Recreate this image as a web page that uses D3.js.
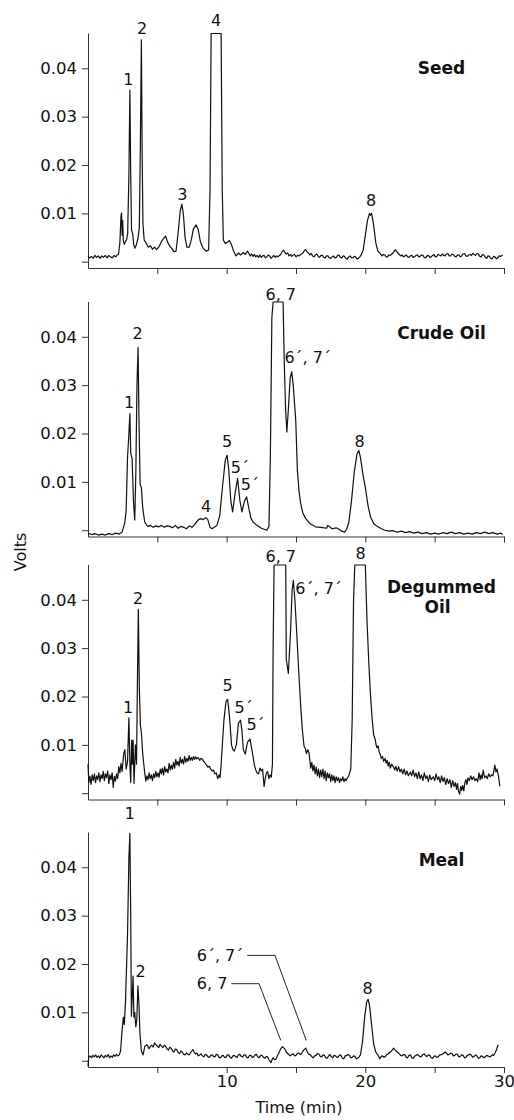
<!DOCTYPE html>
<html><head><meta charset="utf-8">
<script src="https://cdn.jsdelivr.net/npm/d3@7"></script>
<style>
html,body{margin:0;padding:0;background:#fff;}
svg{display:block;}
text{font-family:"DejaVu Sans",sans-serif;fill:#111;}
</style></head>
<body>
<svg id="chart" width="514" height="1120"></svg>
<script>
// ---------- data ----------
const panelTitles = [["Seed"], ["Crude Oil"], ["Degummed", "Oil"], ["Meal"]];
const xTicks = [5, 10, 15, 20, 25, 30];
const xTickLabels = ["", "10", "", "20", "", "30"];
const yTicks = [0, 0.01, 0.02, 0.03, 0.04];
const yTickLabels = ["", "0.01", "0.02", "0.03", "0.04"];
const xTitle = "Time (min)";
const yTitle = "Volts";

const seedTrace = [[0.0,0.0012],[0.12,0.0008],[0.25,0.0011],[0.38,0.0007],[0.5,0.0013],[0.62,0.0009],[0.75,0.0012],[0.88,0.0007],[1.0,0.0012],[1.12,0.0009],[1.25,0.0013],[1.38,0.0008],[1.5,0.0013],[1.62,0.0010],[1.75,0.0008],[1.88,0.0013],[2.0,0.0010],[2.1,0.0014],[2.2,0.0015],
[2.3,0.004],[2.38,0.0095],[2.42,0.0101],[2.46,0.0055],[2.5,0.0085],[2.55,0.0042],[2.62,0.0036],[2.7,0.0042],[2.78,0.0045],[2.86,0.0058],[2.95,0.018],[3.02,0.0355],[3.08,0.018],[3.14,0.0065],[3.22,0.0058],[3.3,0.0035],[3.38,0.0028],[3.48,0.0034],[3.6,0.0048],[3.7,0.007],[3.78,0.025],[3.85,0.0459],[3.9,0.024],[3.96,0.008],[4.05,0.0045],[4.2,0.0038],[4.35,0.0030],[4.5,0.0033],[4.65,0.0026],[4.8,0.0030],[4.95,0.0025],[5.1,0.0030],[5.3,0.0042],[5.45,0.0048],[5.6,0.0053],[5.75,0.0040],[5.9,0.0032],[6.05,0.0027],[6.2,0.0021],[6.35,0.0022],[6.5,0.0060],[6.65,0.0105],[6.77,0.0119],[6.88,0.0098],[7.0,0.0050],[7.13,0.0030],[7.3,0.0030],[7.45,0.0045],[7.6,0.0068],[7.8,0.0076],[7.95,0.0066],[8.1,0.0042],[8.3,0.0028],[8.5,0.0022],[8.7,0.0024],[8.8,0.015],[8.88,0.0472],[9.6,0.0472],[9.68,0.015],[9.76,0.0045],[9.9,0.0038],[10.05,0.0040],[10.2,0.0044],[10.35,0.0035],[10.5,0.0022],[10.67,0.0012],[10.85,0.0018],[11.0,0.0014],[11.2,0.0019],[11.35,0.0015],[11.5,0.0022],[11.7,0.0012],[11.8,0.0016],[11.9,0.0011],[12.0,0.0015],[12.1,0.0010],[12.2,0.0013],[12.3,0.0009],[12.4,0.0014],[12.5,0.0009],[12.6,0.0012],[12.7,0.0013],[12.8,0.0008],[12.9,0.0010],[13.0,0.0014],[13.1,0.0012],[13.2,0.0007],[13.3,0.0010],[13.4,0.0013],[13.5,0.0009],[13.6,0.0012],[13.7,0.0010],[13.8,0.0013],[13.9,0.0015],[14.0,0.0021],[14.1,0.0024],[14.2,0.0019],[14.3,0.0016],[14.4,0.0018],[14.5,0.0012],[14.6,0.0015],[14.7,0.0011],[14.8,0.0014],[14.9,0.0015],[15.0,0.0010],[15.1,0.0013],[15.2,0.0012],[15.3,0.0014],[15.4,0.0016],[15.5,0.0018],[15.6,0.0023],[15.7,0.0025],[15.8,0.0020],[15.9,0.0018],[16.0,0.0014],[16.1,0.0017],[16.2,0.0012],[16.3,0.0010],[16.4,0.0014],[16.5,0.0016],[16.6,0.0011],[16.7,0.0009],[16.8,0.0013],[16.9,0.0013],[17.0,0.0009],[17.1,0.0008],[17.2,0.0012],[17.3,0.0012],[17.4,0.0008],[17.5,0.0007],[17.6,0.0010],[17.7,0.0012],[17.8,0.0008],[17.9,0.0009],[18.0,0.0013],[18.1,0.0014],[18.2,0.0009],[18.3,0.0008],[18.4,0.0012],[18.5,0.0011],[18.6,0.0007],[18.7,0.0006],[18.8,0.0010],[18.9,0.0012],[19.0,0.0008],[19.1,0.0008],[19.2,0.0011],[19.3,0.0010],[19.4,0.0006],[19.5,0.0007],[19.6,0.0010],[19.7,0.0014],[19.85,0.0025],[20.0,0.0055],[20.15,0.0085],[20.3,0.0100],[20.37,0.0096],[20.45,0.0100],[20.6,0.0075],[20.75,0.0040],[20.9,0.0022],[21.05,0.0018],[21.2,0.0012],[21.3,0.0015],[21.4,0.0014],[21.5,0.0010],[21.6,0.0010],[21.7,0.0014],[21.8,0.0013],[21.9,0.0016],[22.0,0.0018],[22.16,0.0025],[22.35,0.0018],[22.45,0.0015],[22.55,0.0012],[22.65,0.0014],[22.75,0.0010],[22.85,0.0012],[22.95,0.0014],[23.05,0.0010],[23.15,0.0009],[23.25,0.0012],[23.35,0.0013],[23.45,0.0009],[23.55,0.0010],[23.65,0.0013],[23.75,0.0014],[23.85,0.0010],[23.95,0.0011],[24.05,0.0014],[24.15,0.0013],[24.25,0.0009],[24.35,0.0008],[24.45,0.0012],[24.55,0.0013],[24.65,0.0009],[24.75,0.0010],[24.85,0.0013],[24.95,0.0015],[25.05,0.0010],[25.15,0.0011],[25.25,0.0015],[25.35,0.0014],[25.45,0.0012],[25.55,0.0016],[25.65,0.0013],[25.75,0.0012],[25.85,0.0016],[25.95,0.0017],[26.05,0.0012],[26.15,0.0012],[26.25,0.0016],[26.35,0.0015],[26.45,0.0011],[26.55,0.0010],[26.65,0.0014],[26.75,0.0014],[26.85,0.0010],[26.95,0.0012],[27.05,0.0016],[27.15,0.0017],[27.25,0.0012],[27.35,0.0011],[27.45,0.0014],[27.55,0.0015],[27.65,0.0013],[27.75,0.0017],[27.85,0.0015],[27.95,0.0013],[28.05,0.0017],[28.15,0.0016],[28.25,0.0011],[28.35,0.0010],[28.45,0.0015],[28.55,0.0014],[28.65,0.0009],[28.75,0.0007],[28.85,0.0012],[28.95,0.0011],[29.05,0.0007],[29.15,0.0006],[29.25,0.0011],[29.35,0.0010],[29.45,0.0006],[29.55,0.0008],[29.65,0.0012],[29.75,0.0011],[29.9,0.0014]];

const crudeTrace = [[0.0,-0.0006],[0.25,-0.0009],[0.5,-0.0007],[0.75,-0.0010],[1.0,-0.0008],[1.25,-0.0010],[1.5,-0.0007],[1.75,-0.0009],[2.0,-0.0006],[2.25,-0.0008],[2.45,-0.0004],[2.6,0.0010],[2.66,0.0017],[2.75,0.004],[2.85,0.0150],[2.95,0.0200],[3.02,0.0241],[3.08,0.0160],[3.18,0.0148],[3.28,0.0060],[3.37,0.0021],[3.45,0.012],[3.53,0.030],[3.61,0.0378],[3.68,0.022],[3.76,0.0095],[3.85,0.0088],[3.95,0.0045],[4.09,0.0017],[4.3,0.0008],[4.5,0.0010],[4.7,0.0006],[4.9,0.0009],[5.1,0.0007],[5.3,0.0010],[5.5,0.0006],[5.7,0.0009],[5.9,0.0008],[6.1,0.0005],[6.3,0.0010],[6.5,0.0004],[6.7,0.0008],[6.9,0.0006],[7.1,0.0003],[7.3,0.0009],[7.5,0.0006],[7.7,0.0012],[7.9,0.0020],[8.1,0.0024],[8.3,0.0022],[8.5,0.0026],[8.64,0.0022],[8.8,0.0006],[8.95,0.0003],[9.1,0.0006],[9.3,0.0010],[9.5,0.0030],[9.7,0.0090],[9.9,0.0145],[10.03,0.0155],[10.15,0.0125],[10.3,0.0060],[10.43,0.0038],[10.6,0.0075],[10.79,0.0107],[10.95,0.0062],[11.1,0.0038],[11.28,0.0060],[11.44,0.0069],[11.6,0.0045],[11.75,0.0025],[11.9,0.0017],[12.1,0.0012],[12.3,0.0008],[12.5,0.0004],[12.7,0.0002],[12.9,0.0000],[13.05,0.0008],[13.15,0.015],[13.26,0.0440],[13.35,0.0472],[14.07,0.0472],[14.15,0.0350],[14.25,0.0250],[14.34,0.0203],[14.45,0.0250],[14.58,0.0315],[14.69,0.0328],[14.8,0.0300],[14.9,0.0260],[14.98,0.0228],[15.1,0.0124],[15.22,0.0080],[15.34,0.0055],[15.5,0.0035],[15.7,0.0024],[16.0,0.0014],[16.4,0.0007],[16.8,0.0006],[17.2,0.0004],[17.3,0.0010],[17.6,0.0003],[17.9,0.0005],[18.1,0.0002],[18.3,-0.0002],[18.5,-0.0004],[18.65,0.0002],[18.81,0.0016],[19.0,0.0060],[19.2,0.0120],[19.4,0.0158],[19.53,0.0165],[19.65,0.0150],[19.8,0.0120],[20.0,0.0088],[20.2,0.0050],[20.37,0.0028],[20.6,0.0014],[20.85,0.0008],[21.1,0.0004],[21.4,0.0000],[21.7,-0.0002],[22.0,-0.0001],[22.3,-0.0004],[22.6,-0.0002],[22.9,-0.0005],[23.2,-0.0003],[23.5,-0.0006],[23.8,-0.0004],[24.1,-0.0007],[24.4,-0.0005],[24.7,-0.0008],[25.0,-0.0006],[25.3,-0.0008],[25.6,-0.0005],[25.9,-0.0007],[26.2,-0.0004],[26.5,-0.0007],[26.8,-0.0005],[27.1,-0.0008],[27.4,-0.0006],[27.7,-0.0008],[28.0,-0.0005],[28.3,-0.0007],[28.6,-0.0004],[28.9,-0.0007],[29.2,-0.0005],[29.5,-0.0008],[29.8,-0.0006],[29.9,-0.0009]];

const degummedTrace = [[0.0,0.0060],[0.06,0.0022],[0.14,0.0035],[0.22,0.0018],[0.3,0.0038],[0.38,0.0026],[0.46,0.0040],[0.54,0.0022],[0.62,0.0036],[0.7,0.0028],[0.78,0.0042],[0.86,0.0024],[0.94,0.0038],[1.02,0.0030],[1.1,0.0045],[1.18,0.0026],[1.26,0.0040],[1.34,0.0032],[1.42,0.0046],[1.5,0.0020],[1.58,0.0038],[1.66,0.0028],[1.74,0.0042],[1.82,0.0012],[1.9,0.0035],[1.98,0.0025],[2.06,0.0040],[2.14,0.0030],[2.22,0.0055],[2.3,0.0042],[2.38,0.0062],[2.46,0.0045],[2.58,0.0083],[2.66,0.0090],[2.75,0.0050],[2.85,0.0065],[2.95,0.0156],[3.02,0.0060],[3.08,0.0022],[3.15,0.0110],[3.2,0.0060],[3.25,0.0110],[3.32,0.0020],[3.42,0.0100],[3.5,0.0060],[3.56,0.0220],[3.63,0.0380],[3.7,0.0220],[3.78,0.0140],[3.85,0.0125],[3.95,0.0080],[4.09,0.0042],[4.17,0.0025],[4.25,0.0036],[4.33,0.0028],[4.41,0.0042],[4.49,0.0030],[4.57,0.0038],[4.65,0.0026],[4.73,0.0040],[4.81,0.0032],[4.89,0.0045],[4.97,0.0034],[5.05,0.0042],[5.13,0.0033],[5.21,0.0050],[5.29,0.0040],[5.37,0.0052],[5.45,0.0038],[5.53,0.0055],[5.61,0.0044],[5.69,0.0050],[5.77,0.0042],[5.85,0.0062],[5.93,0.0048],[6.01,0.0058],[6.09,0.0050],[6.17,0.0064],[6.25,0.0052],[6.33,0.0070],[6.41,0.0058],[6.49,0.0066],[6.57,0.0056],[6.65,0.0074],[6.73,0.0062],[6.81,0.0070],[6.89,0.0060],[6.97,0.0076],[7.05,0.0064],[7.13,0.0072],[7.21,0.0066],[7.29,0.0078],[7.37,0.0068],[7.45,0.0074],[7.53,0.0068],[7.61,0.0076],[7.69,0.0070],[7.77,0.0075],[7.85,0.0071],[7.95,0.0074],[8.05,0.0068],[8.15,0.0072],[8.25,0.0070],[8.35,0.0066],[8.45,0.0062],[8.55,0.0058],[8.65,0.0054],[8.75,0.0056],[8.85,0.0050],[8.95,0.0046],[9.05,0.0048],[9.15,0.0040],[9.25,0.0042],[9.35,0.0030],[9.45,0.0038],[9.52,0.0032],[9.6,0.0060],[9.8,0.0150],[9.95,0.0190],[10.07,0.0194],[10.2,0.0160],[10.35,0.0100],[10.45,0.0090],[10.55,0.0087],[10.7,0.0100],[10.85,0.0145],[11.0,0.0151],[11.1,0.0130],[11.2,0.0090],[11.34,0.0081],[11.5,0.0105],[11.68,0.0112],[11.85,0.0085],[12.0,0.0058],[12.1,0.0048],[12.2,0.0042],[12.3,0.0040],[12.4,0.0052],[12.5,0.0046],[12.59,0.0050],[12.7,0.0014],[12.78,0.0030],[12.85,0.0040],[12.95,0.0045],[13.05,0.0030],[13.12,0.0038],[13.22,0.0033],[13.3,0.0060],[13.35,0.0300],[13.42,0.0472],[14.26,0.0472],[14.3,0.0277],[14.45,0.0248],[14.6,0.0330],[14.72,0.0420],[14.81,0.0440],[14.92,0.0400],[15.05,0.0333],[15.2,0.0250],[15.34,0.0180],[15.46,0.0130],[15.58,0.0097],[15.68,0.0092],[15.75,0.0082],[15.85,0.0090],[15.94,0.0083],[16.06,0.0052],[16.14,0.0064],[16.22,0.0046],[16.3,0.0058],[16.38,0.0040],[16.46,0.0054],[16.54,0.0036],[16.62,0.0050],[16.7,0.0032],[16.78,0.0048],[16.86,0.0034],[16.94,0.0050],[17.02,0.0030],[17.1,0.0046],[17.18,0.0026],[17.26,0.0042],[17.34,0.0032],[17.42,0.0040],[17.5,0.0024],[17.58,0.0038],[17.66,0.0026],[17.74,0.0036],[17.82,0.0022],[17.9,0.0034],[17.98,0.0026],[18.06,0.0032],[18.14,0.0022],[18.22,0.0030],[18.3,0.0026],[18.38,0.0034],[18.46,0.0024],[18.54,0.0030],[18.62,0.0026],[18.7,0.0032],[18.8,0.0035],[18.95,0.0050],[19.05,0.0150],[19.15,0.0400],[19.24,0.0472],[20.0,0.0472],[20.12,0.0357],[20.25,0.0270],[20.37,0.0204],[20.5,0.0150],[20.6,0.0121],[20.72,0.0110],[20.78,0.0100],[20.84,0.0094],[20.92,0.0098],[21.0,0.0085],[21.08,0.0080],[21.15,0.0072],[21.24,0.0076],[21.32,0.0066],[21.42,0.0072],[21.5,0.0062],[21.58,0.0068],[21.65,0.0056],[21.73,0.0064],[21.8,0.0052],[21.9,0.0060],[22.04,0.0054],[22.12,0.0048],[22.2,0.0056],[22.3,0.0046],[22.4,0.0055],[22.5,0.0044],[22.6,0.0050],[22.7,0.0040],[22.8,0.0050],[22.9,0.0038],[23.0,0.0046],[23.1,0.0036],[23.24,0.0044],[23.34,0.0036],[23.45,0.0048],[23.55,0.0034],[23.65,0.0042],[23.75,0.0030],[23.85,0.0044],[23.95,0.0030],[24.05,0.0038],[24.15,0.0026],[24.25,0.0042],[24.35,0.0030],[24.45,0.0036],[24.55,0.0024],[24.65,0.0038],[24.75,0.0028],[24.9,0.0034],[25.0,0.0026],[25.1,0.0040],[25.2,0.0028],[25.3,0.0034],[25.4,0.0022],[25.5,0.0036],[25.6,0.0024],[25.7,0.0032],[25.8,0.0018],[25.9,0.0030],[26.0,0.0020],[26.1,0.0028],[26.2,0.0012],[26.3,0.0026],[26.4,0.0014],[26.5,0.0022],[26.58,0.0008],[26.65,0.0020],[26.72,0.0004],[26.8,-0.0002],[26.88,0.0014],[26.95,0.0006],[27.02,0.0016],[27.1,0.0005],[27.18,0.0022],[27.25,0.0028],[27.33,0.0018],[27.4,0.0032],[27.5,0.0026],[27.6,0.0036],[27.7,0.0028],[27.8,0.0034],[27.9,0.0026],[28.0,0.0030],[28.1,0.0024],[28.2,0.0042],[28.28,0.0028],[28.35,0.0038],[28.42,0.0030],[28.5,0.0048],[28.6,0.0032],[28.7,0.0036],[28.8,0.0030],[28.9,0.0040],[29.0,0.0034],[29.1,0.0038],[29.2,0.0036],[29.34,0.0058],[29.42,0.0044],[29.5,0.0050],[29.6,0.0036],[29.7,0.0014]];

const mealTrace = [[0.0,-0.0012],[0.05,0.0008],[0.15,0.0010],[0.25,0.0006],[0.35,0.0011],[0.45,0.0008],[0.55,0.0012],[0.65,0.0007],[0.75,0.0010],[0.85,0.0006],[0.95,0.0012],[1.05,0.0009],[1.15,0.0006],[1.25,0.0011],[1.35,0.0008],[1.45,0.0013],[1.55,0.0006],[1.65,0.0010],[1.75,0.0007],[1.85,0.0012],[1.95,0.0009],[2.05,0.0013],[2.15,0.0010],[2.25,0.0012],[2.35,0.0020],[2.45,0.0060],[2.55,0.0090],[2.62,0.0075],[2.7,0.0120],[2.85,0.0260],[2.95,0.0420],[3.02,0.0470],[3.08,0.0300],[3.13,0.0092],[3.2,0.0140],[3.25,0.0175],[3.31,0.0090],[3.37,0.0100],[3.45,0.0070],[3.52,0.0085],[3.6,0.0155],[3.67,0.0120],[3.75,0.0055],[3.85,0.0020],[3.97,0.0012],[4.1,0.0030],[4.25,0.0033],[4.4,0.0025],[4.5,0.0030],[4.6,0.0032],[4.7,0.0028],[4.8,0.0037],[4.9,0.0033],[5.0,0.0030],[5.1,0.0027],[5.2,0.0034],[5.3,0.0030],[5.4,0.0027],[5.5,0.0032],[5.6,0.0030],[5.7,0.0024],[5.8,0.0022],[5.9,0.0028],[6.0,0.0026],[6.1,0.0020],[6.2,0.0018],[6.3,0.0024],[6.4,0.0023],[6.5,0.0017],[6.6,0.0015],[6.7,0.0020],[6.8,0.0018],[6.9,0.0013],[7.0,0.0012],[7.1,0.0016],[7.2,0.0014],[7.3,0.0012],[7.4,0.0017],[7.56,0.0023],[7.65,0.0018],[7.75,0.0014],[7.85,0.0016],[7.95,0.0010],[8.05,0.0012],[8.15,0.0014],[8.25,0.0010],[8.35,0.0008],[8.45,0.0013],[8.55,0.0012],[8.65,0.0008],[8.75,0.0007],[8.85,0.0011],[8.95,0.0012],[9.05,0.0009],[9.15,0.0008],[9.25,0.0013],[9.35,0.0012],[9.45,0.0007],[9.55,0.0006],[9.65,0.0010],[9.75,0.0011],[9.85,0.0007],[9.95,0.0007],[10.05,0.0012],[10.15,0.0012],[10.25,0.0007],[10.35,0.0005],[10.45,0.0010],[10.55,0.0011],[10.65,0.0008],[10.75,0.0007],[10.85,0.0012],[10.95,0.0013],[11.05,0.0009],[11.15,0.0008],[11.25,0.0012],[11.35,0.0012],[11.45,0.0007],[11.55,0.0006],[11.65,0.0011],[11.75,0.0011],[11.85,0.0007],[11.95,0.0008],[12.05,0.0012],[12.15,0.0013],[12.25,0.0008],[12.35,0.0006],[12.45,0.0011],[12.55,0.0011],[12.65,0.0007],[12.75,0.0005],[12.85,0.0009],[12.95,0.0008],[13.05,0.0002],[13.19,-0.0004],[13.3,0.0004],[13.35,0.0006],[13.45,0.0002],[13.55,0.0003],[13.65,0.0010],[13.75,0.0015],[13.9,0.0025],[14.02,0.0029],[14.1,0.0027],[14.2,0.0024],[14.3,0.0018],[14.4,0.0015],[14.5,0.0012],[14.6,0.0010],[14.7,0.0013],[14.8,0.0014],[14.9,0.0010],[15.0,0.0011],[15.1,0.0015],[15.2,0.0016],[15.3,0.0013],[15.4,0.0015],[15.55,0.0022],[15.7,0.0026],[15.85,0.0016],[15.95,0.0013],[16.05,0.0012],[16.15,0.0008],[16.25,0.0006],[16.35,0.0010],[16.45,0.0011],[16.55,0.0015],[16.65,0.0014],[16.75,0.0009],[16.85,0.0008],[16.95,0.0012],[17.05,0.0011],[17.15,0.0006],[17.25,0.0005],[17.35,0.0010],[17.45,0.0013],[17.55,0.0008],[17.65,0.0006],[17.75,0.0011],[17.85,0.0010],[17.95,0.0007],[18.05,0.0008],[18.15,0.0012],[18.25,0.0011],[18.35,0.0005],[18.45,0.0004],[18.55,0.0010],[18.65,0.0011],[18.75,0.0013],[18.85,0.0011],[18.95,0.0006],[19.05,0.0007],[19.15,0.0010],[19.25,0.0009],[19.35,0.0004],[19.45,0.0005],[19.55,0.0008],[19.65,0.0012],[19.8,0.0040],[19.95,0.0090],[20.1,0.0122],[20.2,0.0127],[20.3,0.0115],[20.45,0.0075],[20.6,0.0035],[20.75,0.0018],[20.9,0.0012],[21.05,0.0004],[21.15,0.0009],[21.25,0.0010],[21.35,0.0007],[21.45,0.0009],[21.55,0.0013],[21.65,0.0014],[21.75,0.0017],[21.85,0.0019],[22.04,0.0026],[22.15,0.0022],[22.25,0.0019],[22.35,0.0017],[22.45,0.0014],[22.55,0.0011],[22.65,0.0010],[22.75,0.0013],[22.85,0.0012],[22.95,0.0007],[23.05,0.0006],[23.15,0.0011],[23.25,0.0012],[23.35,0.0006],[23.45,0.0005],[23.55,0.0009],[23.65,0.0011],[23.75,0.0013],[23.85,0.0011],[23.95,0.0008],[24.05,0.0009],[24.15,0.0013],[24.25,0.0014],[24.35,0.0010],[24.45,0.0009],[24.55,0.0012],[24.65,0.0011],[24.75,0.0006],[24.85,0.0005],[24.95,0.0009],[25.05,0.0010],[25.15,0.0007],[25.25,0.0008],[25.35,0.0012],[25.45,0.0012],[25.55,0.0014],[25.65,0.0015],[25.75,0.0018],[25.85,0.0016],[25.95,0.0012],[26.05,0.0013],[26.15,0.0016],[26.25,0.0015],[26.35,0.0010],[26.45,0.0011],[26.55,0.0014],[26.65,0.0013],[26.75,0.0008],[26.85,0.0009],[26.95,0.0012],[27.05,0.0011],[27.15,0.0006],[27.25,0.0007],[27.35,0.0011],[27.45,0.0012],[27.55,0.0014],[27.65,0.0011],[27.75,0.0007],[27.85,0.0009],[27.95,0.0012],[28.05,0.0010],[28.15,0.0005],[28.25,0.0006],[28.35,0.0010],[28.45,0.0009],[28.55,0.0006],[28.65,0.0008],[28.75,0.0011],[28.85,0.0010],[28.95,0.0008],[29.05,0.0009],[29.15,0.0012],[29.25,0.0011],[29.35,0.0016],[29.45,0.0022],[29.58,0.0033]];

// peak labels: [text, time (min), volts] anchor of label baseline centre
const seedLabels = [["1",2.91,0.0366],["2",3.91,0.0470],["3",6.80,0.0128],["4",9.24,0.0487],["8",20.41,0.0116]];
const crudeLabels = [["1",2.96,0.0252],["2",3.57,0.0395],["4",8.52,0.0038],["5",10.03,0.0172],["5\u00B4",10.95,0.0119],["5\u00B4",11.68,0.0083],["6, 7",13.9,0.0476],["6\u00B4, 7\u00B4",15.84,0.0345],["8",19.58,0.0172]];
const degummedLabels = [["1",2.89,0.0166],["2",3.61,0.0391],["5",10.07,0.0211],["5\u00B4",11.22,0.0166],["5\u00B4",12.08,0.0130],["6, 7",13.9,0.0478],["6\u00B4, 7\u00B4",16.63,0.0412],["8",19.65,0.0485]];
const mealLabels = [["1",3.02,0.0499],["2",3.8,0.0174],["8",20.17,0.0137]];

// leader-line annotations in Meal panel: [text, time of peak, volts at tip]
const mealCallouts = [["6, 7",13.9,0.0042],["6\u00B4, 7\u00B4",15.74,0.0042]];

// ---------- layout ----------
const traces = [seedTrace, crudeTrace, degummedTrace, mealTrace];
const labelSets = [seedLabels, crudeLabels, degummedLabels, mealLabels];
const panelTops = [33, 301.5, 564.5, 832];
const panelH = 235;
const titleY = [74, 339.3, 593.3, 865.7];
const titleX = 441.5;

const svg = d3.select("#chart");
const x = d3.scaleLinear().domain([0, 30]).range([88, 504]);

traces.forEach((trace, i) => {
  const top = panelTops[i];
  const y = d3.scaleLinear().domain([-0.0013, 0.0473]).range([top + panelH, top]);
  const g = svg.append("g");

  const ya = d3.axisLeft(y).tickValues(yTicks).tickSize(6).tickPadding(5)
    .tickFormat((d, k) => yTickLabels[k]).tickSizeOuter(0);
  const yg = g.append("g").attr("transform", "translate(88,0)").call(ya);
  const xa = d3.axisBottom(x).tickValues(xTicks).tickSize(6).tickPadding(2)
    .tickFormat((d, k) => i === 3 ? xTickLabels[k] : "").tickSizeOuter(0);
  const xg = g.append("g").attr("transform", `translate(0,${top + panelH})`).call(xa);

  [yg, xg].forEach(a => {
    a.selectAll("path.domain").attr("stroke", "#333").attr("stroke-width", 1);
    a.selectAll(".tick line").attr("stroke", "#333").attr("stroke-width", 1);
    a.selectAll(".tick text").attr("font-size", 16.5).attr("font-family", "DejaVu Sans").attr("fill", "#111");
  });

  const line = d3.line().x(d => x(d[0])).y(d => y(d[1]));
  g.append("path").datum(trace).attr("d", line)
    .attr("fill", "none").attr("stroke", "#111").attr("stroke-width", 1.2)
    .attr("stroke-linejoin", "round");

  g.selectAll("text.pk").data(labelSets[i]).join("text").attr("class", "pk")
    .attr("x", d => x(d[1])).attr("y", d => y(d[2]))
    .attr("text-anchor", "middle").attr("font-size", 16).text(d => d[0]);

  panelTitles[i].forEach((t, k) => {
    g.append("text").attr("x", titleX - (k > 0 ? 4 : 0)).attr("y", titleY[i] + k * 20)
      .attr("text-anchor", "middle").attr("font-size", 17).attr("font-weight", "bold").text(t);
  });

  if (i === 3) {
    const offs = [{dx: 21.7, dy: 56.7, h: 27.7}, {dx: 31.3, dy: 85, h: 27.7}];
    mealCallouts.forEach((c, k) => {
      const tx = x(c[1]), ty = y(c[2]);
      const ex = tx - offs[k].dx, ey = ty - offs[k].dy;
      const sx = ex - offs[k].h;
      g.append("path").attr("d", `M${sx},${ey}L${ex},${ey}L${tx},${ty}`)
        .attr("fill", "none").attr("stroke", "#222").attr("stroke-width", 1);
      g.append("text").attr("x", sx - 4).attr("y", ey + 5.5).attr("text-anchor", "end")
        .attr("font-size", 16).text(c[0]);
    });
  }
});

svg.append("text").attr("transform", "translate(26,552) rotate(-90)")
  .attr("text-anchor", "middle").attr("font-size", 16).text(yTitle);
svg.append("text").attr("x", 299).attr("y", 1113).attr("text-anchor", "middle")
  .attr("font-size", 16).text(xTitle);
</script>
</body></html>
